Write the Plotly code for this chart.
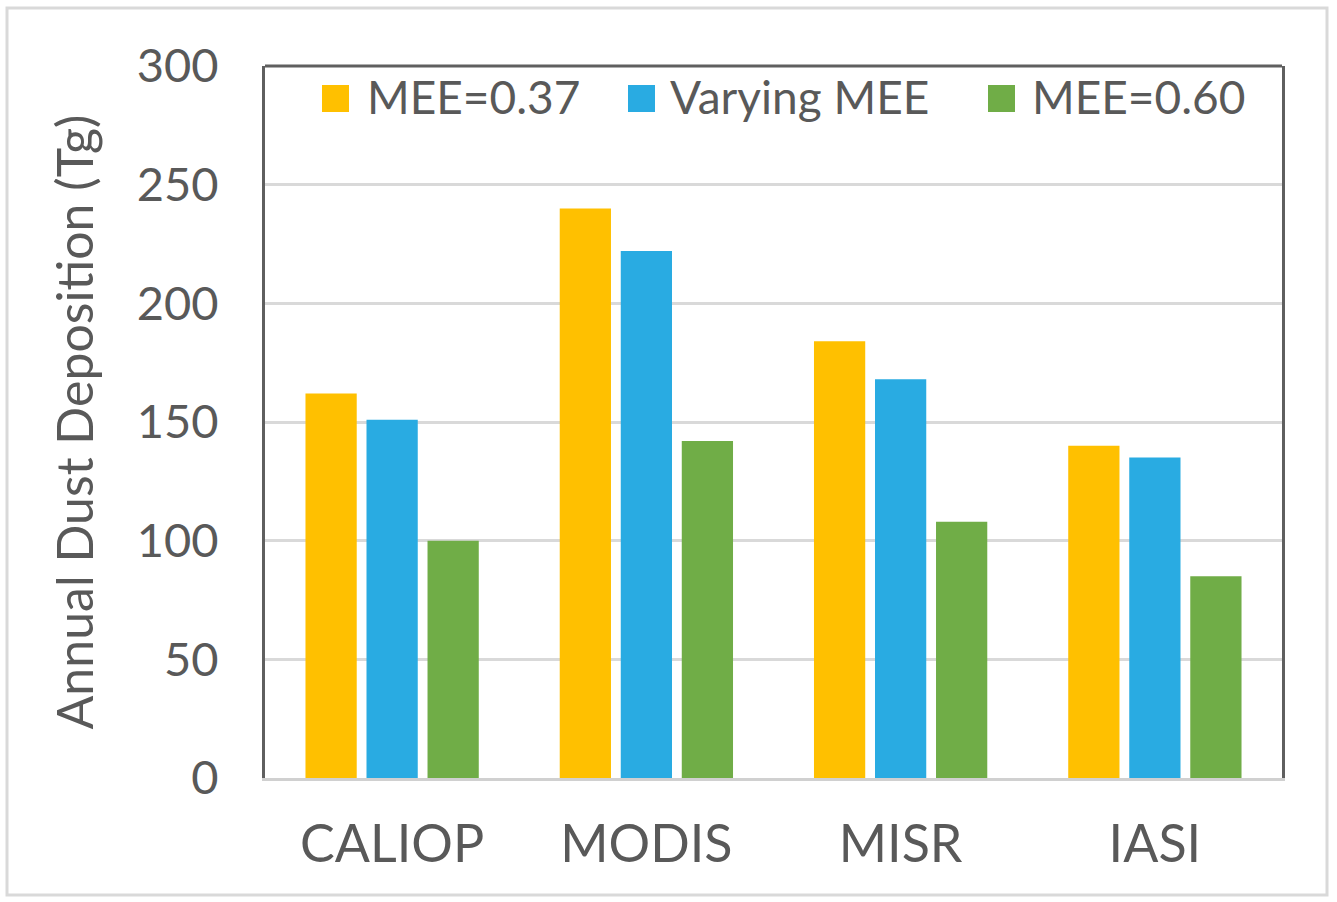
import plotly.graph_objects as go

# Satellite products and annual dust deposition (Tg) for each MEE assumption
categories = ["CALIOP", "MODIS", "MISR", "IASI"]
series_names = ["MEE=0.37", "Varying MEE", "MEE=0.60"]
mee_037 = [162, 240, 184, 140]
mee_varying = [151, 222, 168, 135]
mee_060 = [100, 142, 108, 85]
y_ticks = [0, 50, 100, 150, 200, 250, 300]

colors = ["#FFC000", "#29ABE2", "#70AD47"]
text_color = "#595959"
font_family = "Lato, 'Open Sans', sans-serif"

W, H = 1337, 902
M_L, M_R, M_T, M_B = 265, 55, 66, 124
plot_w = W - M_L - M_R
plot_h = H - M_T - M_B


def px_x(px):
    return (px - M_L) / plot_w


def px_y(py):
    return (H - M_B - py) / plot_h


fig = go.Figure()
for name, vals, col in zip(series_names, [mee_037, mee_varying, mee_060], colors):
    fig.add_trace(go.Bar(x=categories, y=vals, name=name, marker_color=col,
                         marker_line_width=0, showlegend=False))

shapes = [
    # outer frame around the whole figure
    dict(type="rect", xref="paper", yref="paper",
         x0=px_x(7), x1=px_x(1327), y0=px_y(895), y1=px_y(8),
         line=dict(color="#D9D9D9", width=3), layer="below"),
    # top edge of the plot box
    dict(type="line", xref="paper", yref="paper", x0=0, x1=1, y0=1, y1=1,
         line=dict(color="#5F5F5F", width=3)),
]

# legend row drawn inside the plot box
legend_items = [(322, 365), (628, 668), (988, 1030)]
annotations = []
for (sq_x, tx_x), name, col in zip(legend_items, series_names, colors):
    shapes.append(dict(type="rect", xref="paper", yref="paper",
                       x0=px_x(sq_x), x1=px_x(sq_x + 27),
                       y0=px_y(112), y1=px_y(85),
                       fillcolor=col, line=dict(width=0)))
    annotations.append(dict(text=name, xref="paper", yref="paper",
                            x=px_x(tx_x), y=px_y(97), xanchor="left", yanchor="middle",
                            showarrow=False,
                            font=dict(family=font_family, size=46, color=text_color)))

fig.update_layout(
    width=W, height=H,
    margin=dict(l=M_L, r=M_R, t=M_T, b=M_B),
    paper_bgcolor="white", plot_bgcolor="white",
    barmode="group", bargap=0.28, bargroupgap=0.16,
    font=dict(family=font_family, color=text_color),
    shapes=shapes, annotations=annotations,
    showlegend=False,
)

fig.update_xaxes(
    showline=True, linecolor="#D0D0D0", linewidth=3, mirror=False,
    showgrid=False, ticks="", tickfont=dict(size=52, color=text_color),
    ticklabelstandoff=19,
)
fig.update_yaxes(
    range=[0, 300], tickvals=y_ticks, ticktext=[str(v) for v in y_ticks],
    showline=True, linecolor="#5F5F5F", linewidth=3, mirror=True,
    showgrid=True, gridcolor="#D9D9D9", gridwidth=3, zeroline=False,
    ticks="", tickfont=dict(size=47, color=text_color), ticklabelstandoff=34,
    title=dict(text="Annual Dust Deposition (Tg)", standoff=28,
               font=dict(size=50, color=text_color)),
)

fig.write_html("out.html")
